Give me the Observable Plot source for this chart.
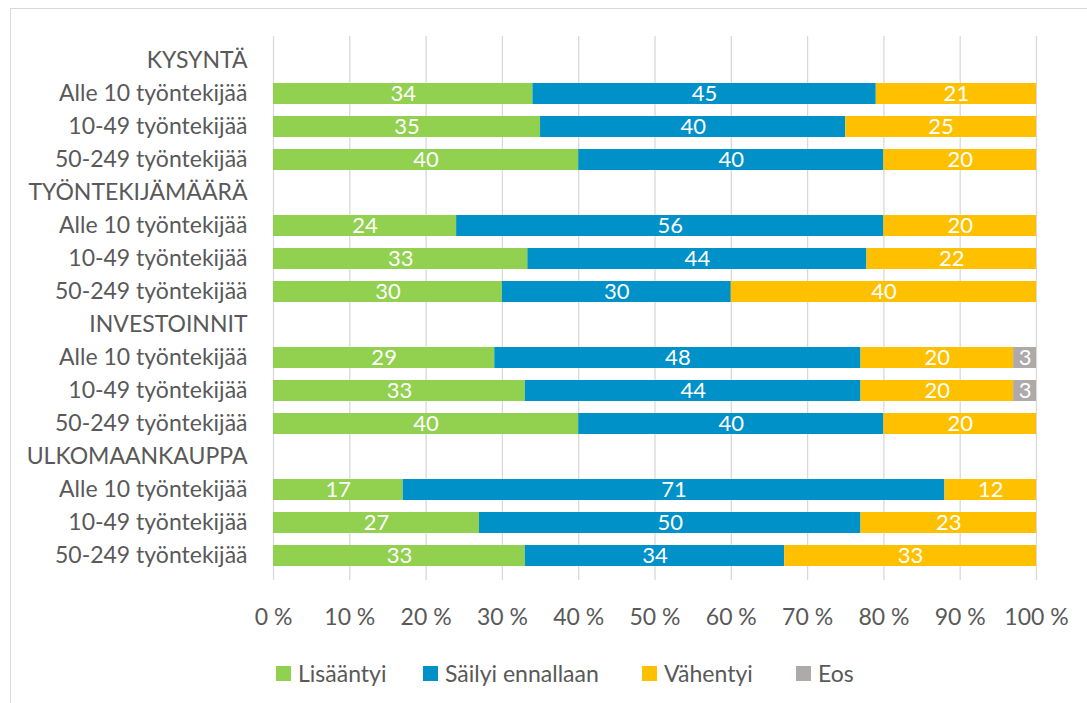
<!DOCTYPE html>
<html>
<head>
<meta charset="utf-8">
<script src="https://cdn.jsdelivr.net/npm/d3@7"></script>
<script src="https://cdn.jsdelivr.net/npm/@observablehq/plot@0.6"></script>
<style>
  html, body { margin: 0; padding: 0; background: #fff; }
  #wrap { position: relative; width: 1087px; height: 703px; overflow: hidden; font-family: Lato, "Open Sans", sans-serif; }
  #frame { position: absolute; left: 10px; top: 8px; width: 1200px; height: 800px; border-left: 1px solid #d9d9d9; border-top: 1px solid #d9d9d9; }
  #chart { position: absolute; left: 0; top: 0; }
  #legend { position: absolute; left: 0; top: 658px; width: 1087px; height: 30px; font-size: 23px; color: #595959; }
  .item { position: absolute; top: 0; display: flex; align-items: center; height: 30px; white-space: nowrap; }
  .sw { width: 15px; height: 15px; margin-right: 7px; }
</style>
</head>
<body>
<div id="wrap">
  <div id="frame"></div>
  <div id="chart"></div>
  <div id="legend"></div>
</div>
<script>
const groups = ["KYSYNTÄ", "TYÖNTEKIJÄMÄÄRÄ", "INVESTOINNIT", "ULKOMAANKAUPPA"];
const sizes = ["Alle 10 työntekijää", "10-49 työntekijää", "50-249 työntekijää"];
const series = ["Lisääntyi", "Säilyi ennallaan", "Vähentyi", "Eos"];
const colors = ["#92D050", "#0091C9", "#FFC000", "#AEAAAA"];
const lisaantyi = [34, 35, 40, 24, 33, 30, 29, 33, 40, 17, 27, 33];
const sailyi    = [45, 40, 40, 56, 44, 30, 48, 44, 40, 71, 50, 34];
const vahentyi  = [21, 25, 20, 20, 22, 40, 20, 20, 20, 12, 23, 33];
const eos       = [0, 0, 0, 0, 0, 0, 3, 3, 0, 0, 0, 0];
const xTicks = [0, 0.1, 0.2, 0.3, 0.4, 0.5, 0.6, 0.7, 0.8, 0.9, 1];
const legendX = [276, 423, 642, 796];

const valuesBySeries = [lisaantyi, sailyi, vahentyi, eos];
const rows = [];
const data = [];
groups.forEach((g, gi) => {
  rows.push({id: `h${gi}`, label: g});
  sizes.forEach((s, si) => {
    const id = `r${gi}-${si}`;
    rows.push({id, label: s});
    const idx = gi * 3 + si;
    series.forEach((name, k) => {
      const v = valuesBySeries[k][idx];
      if (v > 0) data.push({row: id, series: name, value: v});
    });
  });
});

const fmt = d => Math.round(d * 100) + " %";

const chart = Plot.plot({
  width: 1087,
  height: 640,
  marginLeft: 273,
  marginRight: 51,
  marginTop: 36,
  marginBottom: 60,
  style: {fontFamily: "Lato, 'Open Sans', sans-serif", background: "transparent"},
  x: {domain: [0, 1], axis: null},
  y: {domain: rows.map(r => r.id), padding: 0.35, axis: null},
  color: {domain: series, range: colors},
  marks: [
    Plot.gridX(xTicks, {stroke: "#d9d9d9", strokeOpacity: 1, strokeWidth: 1.3}),
    Plot.barX(data, Plot.stackX({x: "value", y: "row", z: "series", fill: "series", offset: "normalize", order: series})),
    Plot.text(data, Plot.stackX({x: "value", y: "row", z: "series", text: "value", offset: "normalize", order: series, fill: "white", fontSize: 22})),
    Plot.text(rows, {y: "id", text: "label", frameAnchor: "left", textAnchor: "end", dx: -26, fill: "#595959", fontSize: 23}),
    Plot.axisX(xTicks, {tickFormat: fmt, tickSize: 0, tickPadding: 28, fontSize: 23, fill: "#595959", label: null})
  ]
});
document.getElementById("chart").appendChild(chart);

const legend = document.getElementById("legend");
series.forEach((s, i) => {
  const item = document.createElement("div");
  item.className = "item";
  item.style.left = legendX[i] + "px";
  const sw = document.createElement("span");
  sw.className = "sw";
  sw.style.background = colors[i];
  const t = document.createElement("span");
  t.textContent = s;
  item.appendChild(sw);
  item.appendChild(t);
  legend.appendChild(item);
});
</script>
</body>
</html>
